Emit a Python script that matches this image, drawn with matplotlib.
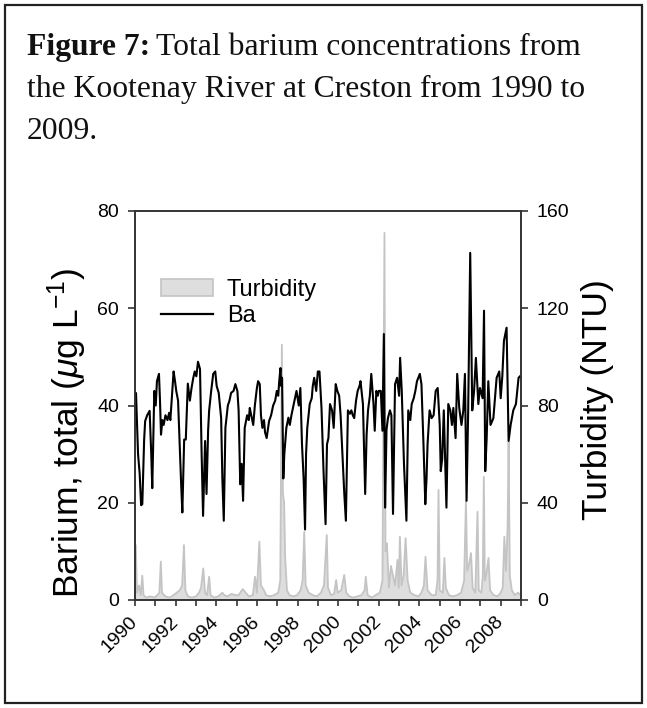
import numpy as np
import matplotlib.pyplot as plt
from matplotlib.patches import Patch, Rectangle
from matplotlib.lines import Line2D

# Kootenay River at Creston, total barium (ug/L) sampled through 1990-2009
BA_DATES = [
    1990.05, 1990.15, 1990.23, 1990.30, 1990.36, 1990.45, 1990.50, 1990.60, 1990.72, 1990.80,
    1990.85, 1990.95, 1991.02, 1991.08, 1991.18, 1991.23, 1991.28, 1991.35, 1991.41, 1991.50,
    1991.60, 1991.68, 1991.74, 1991.90, 1991.97, 1992.03, 1992.12, 1992.20, 1992.27, 1992.33,
    1992.42, 1992.50, 1992.56, 1992.60, 1992.70, 1992.78, 1992.86, 1992.94, 1993.02, 1993.10,
    1993.20, 1993.28, 1993.35, 1993.45, 1993.52, 1993.60, 1993.65, 1993.75, 1993.85, 1993.95,
    1994.02, 1994.12, 1994.24, 1994.30, 1994.37, 1994.45, 1994.57, 1994.65, 1994.73, 1994.85,
    1994.94, 1995.04, 1995.10, 1995.18, 1995.25, 1995.32, 1995.40, 1995.52, 1995.60, 1995.65,
    1995.72, 1995.82, 1995.90, 1996.00, 1996.06, 1996.14, 1996.20, 1996.27, 1996.35, 1996.40,
    1996.48, 1996.60, 1996.70, 1996.80, 1996.90, 1996.98, 1997.05, 1997.10, 1997.16, 1997.20,
    1997.24, 1997.30, 1997.35, 1997.45, 1997.55, 1997.62, 1997.70, 1997.80, 1997.87, 1997.95,
    1998.06, 1998.14, 1998.22, 1998.30, 1998.37, 1998.42, 1998.48, 1998.60, 1998.70, 1998.75,
    1998.82, 1998.92, 1999.00, 1999.08, 1999.18, 1999.28, 1999.38, 1999.45, 1999.52, 1999.60,
    1999.70, 1999.78, 1999.88, 1999.96, 2000.05, 2000.12, 2000.20, 2000.30, 2000.38, 2000.48,
    2000.58, 2000.65, 2000.72, 2000.79, 2000.88, 2000.96, 2001.05, 2001.10, 2001.22, 2001.33,
    2001.40, 2001.47, 2001.56, 2001.63, 2001.74, 2001.80, 2001.88, 2001.95, 2002.00, 2002.10,
    2002.18, 2002.25, 2002.31, 2002.38, 2002.45, 2002.55, 2002.62, 2002.70, 2002.80, 2002.90,
    2003.00, 2003.05, 2003.13, 2003.24, 2003.36, 2003.45, 2003.55, 2003.62, 2003.72, 2003.80,
    2003.88, 2004.02, 2004.10, 2004.20, 2004.29, 2004.35, 2004.40, 2004.50, 2004.60, 2004.70,
    2004.80, 2004.90, 2005.00, 2005.05, 2005.12, 2005.20, 2005.33, 2005.42, 2005.52, 2005.60,
    2005.67, 2005.78, 2005.86, 2005.96, 2006.07, 2006.16, 2006.24, 2006.32, 2006.40, 2006.50,
    2006.60, 2006.69, 2006.78, 2006.90, 2006.98, 2007.11, 2007.18, 2007.24, 2007.31, 2007.39,
    2007.50, 2007.64, 2007.80, 2007.93, 2008.00, 2008.08, 2008.16, 2008.29, 2008.39, 2008.49,
    2008.62, 2008.75, 2008.88, 2008.95,
]
BA_VALUES = [
    42.5, 30.0, 26.0, 19.5, 19.7, 33.0, 36.8, 38.0, 38.9, 30.0,
    23.0, 43.0, 40.0, 45.0, 46.5, 41.0, 34.0, 37.0, 36.0, 38.0,
    37.0, 38.5, 37.0, 47.0, 45.0, 43.0, 41.0, 32.0, 24.0, 18.0,
    33.0, 33.0, 40.0, 44.5, 41.0, 43.5, 45.5, 47.0, 46.0, 49.0,
    47.5, 30.0, 17.3, 32.7, 21.8, 35.0, 39.0, 43.0, 46.5, 47.0,
    44.0, 42.6, 37.4, 25.0, 16.3, 35.4, 40.0, 41.0, 42.6, 43.0,
    44.4, 43.0, 39.0, 23.8, 28.0, 20.4, 35.4, 38.0, 37.0, 39.5,
    38.0, 36.0, 40.0, 43.6, 45.0, 44.4, 38.0, 35.4, 37.0, 34.5,
    33.3, 36.8, 38.0, 40.0, 41.0, 43.0, 42.0, 45.0, 47.7, 44.0,
    45.7, 25.0, 30.0, 35.4, 37.5, 36.0, 38.0, 40.0, 41.5, 43.0,
    40.0, 43.6, 32.0, 25.0, 14.5, 30.0, 35.4, 40.3, 41.5, 44.0,
    45.7, 43.0, 47.0, 47.0, 39.5, 26.5, 15.6, 32.0, 33.3, 40.3,
    39.0, 35.4, 44.4, 43.0, 42.0, 38.0, 30.7, 22.0, 16.3, 39.0,
    38.3, 39.0, 38.0, 37.4, 41.0, 43.0, 44.0, 45.0, 40.3, 21.8,
    34.0, 39.0, 42.0, 46.5, 40.3, 34.8, 43.0, 42.0, 43.0, 43.0,
    34.8, 54.7, 19.0, 35.0, 37.4, 39.0, 38.0, 17.7, 44.4, 45.7,
    42.0, 49.8, 43.0, 28.0, 16.3, 39.0, 37.0, 40.3, 41.5, 43.0,
    45.0, 46.5, 44.4, 32.0, 19.7, 25.0, 32.0, 39.0, 37.4, 38.0,
    43.0, 43.6, 36.0, 26.5, 29.0, 39.0, 19.0, 40.3, 39.0, 36.0,
    39.5, 33.3, 46.5, 39.5, 36.0, 39.0, 46.5, 20.4, 39.0, 71.4,
    39.0, 43.0, 49.8, 40.3, 43.6, 41.5, 59.5, 26.5, 33.3, 45.0,
    36.0, 37.4, 45.7, 47.0, 41.5, 46.0, 53.3, 56.0, 32.7, 36.0,
    39.0, 40.3, 45.7, 46.0,
]

# Turbidity (NTU) over the same period
TURB_DATES = [
    1990.00, 1990.04, 1990.10, 1990.20, 1990.28, 1990.36, 1990.42, 1990.55, 1990.75, 1990.95,
    1991.10, 1991.20, 1991.27, 1991.33, 1991.50, 1991.70, 1991.90, 1992.05, 1992.20, 1992.32,
    1992.41, 1992.48, 1992.60, 1992.80, 1993.00, 1993.15, 1993.25, 1993.36, 1993.45, 1993.55,
    1993.65, 1993.72, 1993.90, 1994.10, 1994.30, 1994.40, 1994.55, 1994.75, 1994.95, 1995.10,
    1995.30, 1995.45, 1995.60, 1995.80, 1995.91, 1996.00, 1996.12, 1996.20, 1996.35, 1996.45,
    1996.65, 1996.85, 1997.05, 1997.15, 1997.23, 1997.28, 1997.34, 1997.39, 1997.48, 1997.60,
    1997.80, 1997.98, 1998.15, 1998.25, 1998.33, 1998.40, 1998.55, 1998.75, 1998.95, 1999.15,
    1999.30, 1999.44, 1999.50, 1999.65, 1999.80, 1999.90, 1999.98, 2000.15, 2000.30, 2000.40,
    2000.55, 2000.75, 2000.95, 2001.15, 2001.30, 2001.36, 2001.45, 2001.65, 2001.85, 2002.05,
    2002.18, 2002.28, 2002.33, 2002.40, 2002.50, 2002.60, 2002.80, 2002.92, 2002.98, 2003.04,
    2003.12, 2003.22, 2003.32, 2003.42, 2003.55, 2003.75, 2003.95, 2004.10, 2004.22, 2004.30,
    2004.40, 2004.60, 2004.80, 2004.89, 2004.94, 2005.00, 2005.15, 2005.23, 2005.30, 2005.45,
    2005.65, 2005.85, 2006.05, 2006.20, 2006.29, 2006.35, 2006.45, 2006.54, 2006.62, 2006.75,
    2006.86, 2006.92, 2007.05, 2007.12, 2007.17, 2007.22, 2007.32, 2007.40, 2007.48, 2007.65,
    2007.85, 2008.00, 2008.10, 2008.18, 2008.26, 2008.34, 2008.39, 2008.45, 2008.55, 2008.70,
    2008.85, 2009.00,
]
TURB_VALUES = [
    3.0, 22.6, 3.0, 6.0, 2.0, 10.0, 2.0, 1.0, 1.5, 1.0,
    2.0, 3.0, 15.8, 3.0, 1.5, 1.0, 2.0, 3.0, 4.0, 6.0,
    22.6, 4.0, 1.5, 1.0, 1.5, 3.0, 5.0, 13.0, 3.0, 2.0,
    9.6, 2.0, 1.0, 1.5, 3.0, 2.0, 1.5, 2.5, 2.0, 2.0,
    4.5, 3.0, 1.5, 2.0, 9.6, 3.0, 24.0, 6.0, 4.0, 2.0,
    1.5, 2.0, 3.0, 8.0, 105.0, 44.0, 40.0, 17.8, 4.0, 2.0,
    1.5, 2.0, 4.0, 8.0, 28.0, 6.0, 3.0, 2.0, 1.5, 3.0,
    6.0, 26.7, 5.0, 2.0, 2.5, 8.2, 3.0, 4.0, 10.3, 3.0,
    1.5, 1.0, 1.5, 2.0, 4.0, 9.6, 2.0, 1.0, 2.0, 3.0,
    8.0, 151.0, 20.0, 23.3, 5.0, 14.0, 6.0, 16.5, 5.0, 26.0,
    6.0, 10.0, 25.4, 8.0, 3.0, 2.0, 1.5, 3.0, 6.0, 17.8,
    4.0, 2.0, 2.0, 8.0, 45.3, 4.0, 3.0, 17.3, 5.0, 2.0,
    1.5, 2.0, 3.0, 8.0, 41.0, 12.0, 15.0, 19.3, 5.0, 3.0,
    36.3, 4.0, 3.0, 10.0, 50.7, 8.0, 12.0, 17.3, 4.0, 2.0,
    1.5, 3.0, 5.0, 26.0, 12.0, 30.0, 65.0, 10.0, 4.0, 2.0,
    3.0, 2.0,
]

YEAR_TICKS = list(range(1990, 2010))
YEAR_LABELS = [str(y) if y % 2 == 0 and y < 2009 else '' for y in YEAR_TICKS]
BA_TICKS = [0, 20, 40, 60, 80]
TURB_TICKS = [0, 40, 80, 120, 160]

W, H = 647, 708
plt.rcParams['font.family'] = ['Liberation Sans', 'DejaVu Sans']
plt.rcParams['mathtext.fontset'] = 'custom'
plt.rcParams['mathtext.it'] = 'Liberation Sans:italic'
plt.rcParams['mathtext.rm'] = 'Liberation Sans'

fig = plt.figure(figsize=(W / 100, H / 100), dpi=100)

# frame around the whole panel
fig.patches.append(Rectangle((5 / W, 5 / H), 637 / W, 698 / H, transform=fig.transFigure,
                             fill=False, edgecolor='#222222', linewidth=1.6))

# caption, bold lead-in followed by regular text
serif = ['Liberation Serif', 'DejaVu Serif']
cap_size = 22.8
lead = fig.text(27 / W, 1 - 55 / H, 'Figure 7:', fontsize=cap_size, fontweight='bold',
                family=serif, va='baseline', color='#111111')
fig.canvas.draw()
lead_w = lead.get_window_extent().width
fig.text((27 + lead_w + 6) / W, 1 - 55 / H, 'Total barium concentrations from',
         fontsize=cap_size, family=serif, va='baseline', color='#111111')
fig.text(27 / W, 1 - 97 / H, 'the Kootenay River at Creston from 1990 to',
         fontsize=cap_size, family=serif, va='baseline', color='#111111')
fig.text(27 / W, 1 - 139 / H, '2009.', fontsize=cap_size, family=serif,
         va='baseline', color='#111111')

ax = fig.add_axes([135 / W, 1 - 600 / H, 386 / W, 389 / H])
ax2 = ax.twinx()

# turbidity as a filled area on the right axis
ax2.fill_between(TURB_DATES, 0, TURB_VALUES, facecolor='#dedede', edgecolor='none')
ax2.plot(TURB_DATES, TURB_VALUES, color='#c4c4c4', linewidth=1.3)
ax2.set_ylim(0, 160)
ax2.set_yticks(TURB_TICKS)
ax2.set_ylabel('Turbidity (NTU)', fontsize=25.5)
ax2.yaxis.set_label_coords(1.155, 0.514)

# barium line on top
ax.set_zorder(ax2.get_zorder() + 1)
ax.patch.set_visible(False)
ax.plot(BA_DATES, BA_VALUES, color='black', linewidth=1.5)
ax.set_xlim(1990, 2009)
ax.set_ylim(0, 80)
ax.set_yticks(BA_TICKS)
ax.set_xticks(YEAR_TICKS)
ax.set_xticklabels(YEAR_LABELS, rotation=45, ha='right', va='center',
                   rotation_mode='anchor')
ax.set_ylabel(r'Barium, total ($\mathit{\mu}$g L$^{\mathregular{-1}}$)', fontsize=25.5)
ax.yaxis.set_label_coords(-0.118, 0.43)

for a in (ax, ax2):
    for s in a.spines.values():
        s.set_color('#333333')
        s.set_linewidth(1.2)
    a.tick_params(direction='out', length=5, width=1.2, color='#333333',
                  labelsize=14, pad=6.5)
ax.tick_params(axis='x', length=4.5, pad=9)

handles = [Patch(facecolor='#dedede', edgecolor='#c4c4c4', linewidth=1.2),
           Line2D([], [], color='black', linewidth=1.6)]
ax.legend(handles, ['Turbidity', 'Ba'], loc='upper left', bbox_to_anchor=(0.067, 0.826),
          frameon=False, fontsize=17, handlelength=2.2, handleheight=0.7,
          handletextpad=0.6, labelspacing=0.2, borderaxespad=0, borderpad=0)

fig.savefig('out.png', dpi=100)
